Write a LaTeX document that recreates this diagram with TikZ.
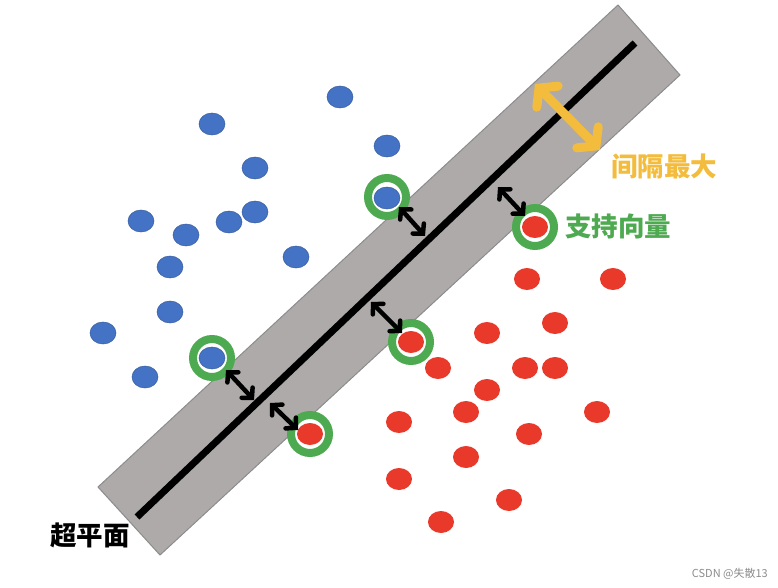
\documentclass[tikz,border=0pt]{standalone}
\usepackage{fontspec}
\newfontfamily\cjk{Noto Sans CJK SC}
\usetikzlibrary{arrows.meta,shapes.geometric}
\definecolor{bandgray}{HTML}{AEAAAA}
\definecolor{bandedge}{HTML}{8C8C8C}
\definecolor{dotblue}{HTML}{4472C4}
\definecolor{dotred}{HTML}{E8392A}
\definecolor{ringgreen}{HTML}{4EAA50}
\definecolor{goldtxt}{HTML}{F4BC3C}
\tikzset{
  bdot/.style={ellipse, minimum width=26pt, minimum height=22pt, inner sep=0pt, fill=dotblue, draw=dotblue!80!black, line width=0.5pt},
  rdot/.style={ellipse, minimum width=26pt, minimum height=22pt, inner sep=0pt, fill=dotred},
  ring/.style={circle, draw=ringgreen, line width=8pt, fill=white, minimum size=38pt, inner sep=0pt},
  darr/.style={line width=4.5pt, line cap=round, {Straight Barb[length=7pt,width=15pt,line cap=round]}-{Straight Barb[length=7pt,width=15pt,line cap=round]}},
  yarr/.style={line width=9pt, goldtxt, line cap=round, {Straight Barb[length=12pt,width=30pt,line cap=round]}-{Straight Barb[length=12pt,width=30pt,line cap=round]}},
  lbl/.style={font=\cjk\bfseries\fontsize{26.5}{30}\selectfont, inner sep=0pt}
}
\begin{document}
\begin{tikzpicture}[x=1pt,y=-1pt]
\useasboundingbox[fill=white] (0,0) rectangle (778,588);
% band
\draw[fill=bandgray, draw=bandedge, line width=1pt] (98,487) -- (618,5) -- (680,75) -- (160,555) -- cycle;
\coordinate (l1) at (137,517);
\coordinate (l2) at (635,43);
\draw[line width=7pt] (l1) -- (l2);
% rings
\node[ring] (g1) at (387,197) {};
\node[ring] (g2) at (535,227) {};
\node[ring] (g3) at (212,358) {};
\node[ring] (g4) at (411,342) {};
\node[ring] (g5) at (310,434) {};
% blue dots
\foreach \p [count=\i] in {(340,97),(212,124),(387,146),(255,168),(141,221),(186,235),(229,222),(255,212),(296,257),(170,267),(170,312),(103,333),(145,377),(387,198),(212,358)}
  \node[bdot] (b\i) at \p {};
% red dots
\foreach \p [count=\i] in {(535,227),(527,279),(613,279),(487,333),(555,323),(411,342),(438,368),(525,368),(555,368),(487,390),(466,412),(597,412),(399,422),(529,434),(310,434),(466,457),(399,479),(509,500),(441,522)}
  \node[rdot] (r\i) at \p {};
% double arrows
\coordinate (a1s) at (399,207); \coordinate (a1e) at (425,236);
\coordinate (a2s) at (498,187); \coordinate (a2e) at (525,216);
\coordinate (a3s) at (371,302); \coordinate (a3e) at (402,333);
\coordinate (a4s) at (226,370); \coordinate (a4e) at (254,400);
\coordinate (a5s) at (270,403); \coordinate (a5e) at (298,430);
\draw[darr] (a1s) -- (a1e);
\draw[darr] (a2s) -- (a2e);
\draw[darr] (a3s) -- (a3e);
\draw[darr] (a4s) -- (a4e);
\draw[darr] (a5s) -- (a5e);
\coordinate (y1) at (535,84);
\coordinate (y2) at (600,150);
\draw[yarr] (y1) -- (y2);
% labels
\node[lbl, text=goldtxt, anchor=west] (t1) at (611,166) {间隔最大};
\node[lbl, text=ringgreen, anchor=west] (t2) at (565,226) {支持向量};
\node[lbl, text=black, anchor=west] (t3) at (50,535) {超平面};
\node[font=\cjk\fontsize{11}{13}\selectfont, text=black!45, anchor=east, inner sep=0pt] (wm) at (768,574) {CSDN @失散13};
\end{tikzpicture}
\end{document}
